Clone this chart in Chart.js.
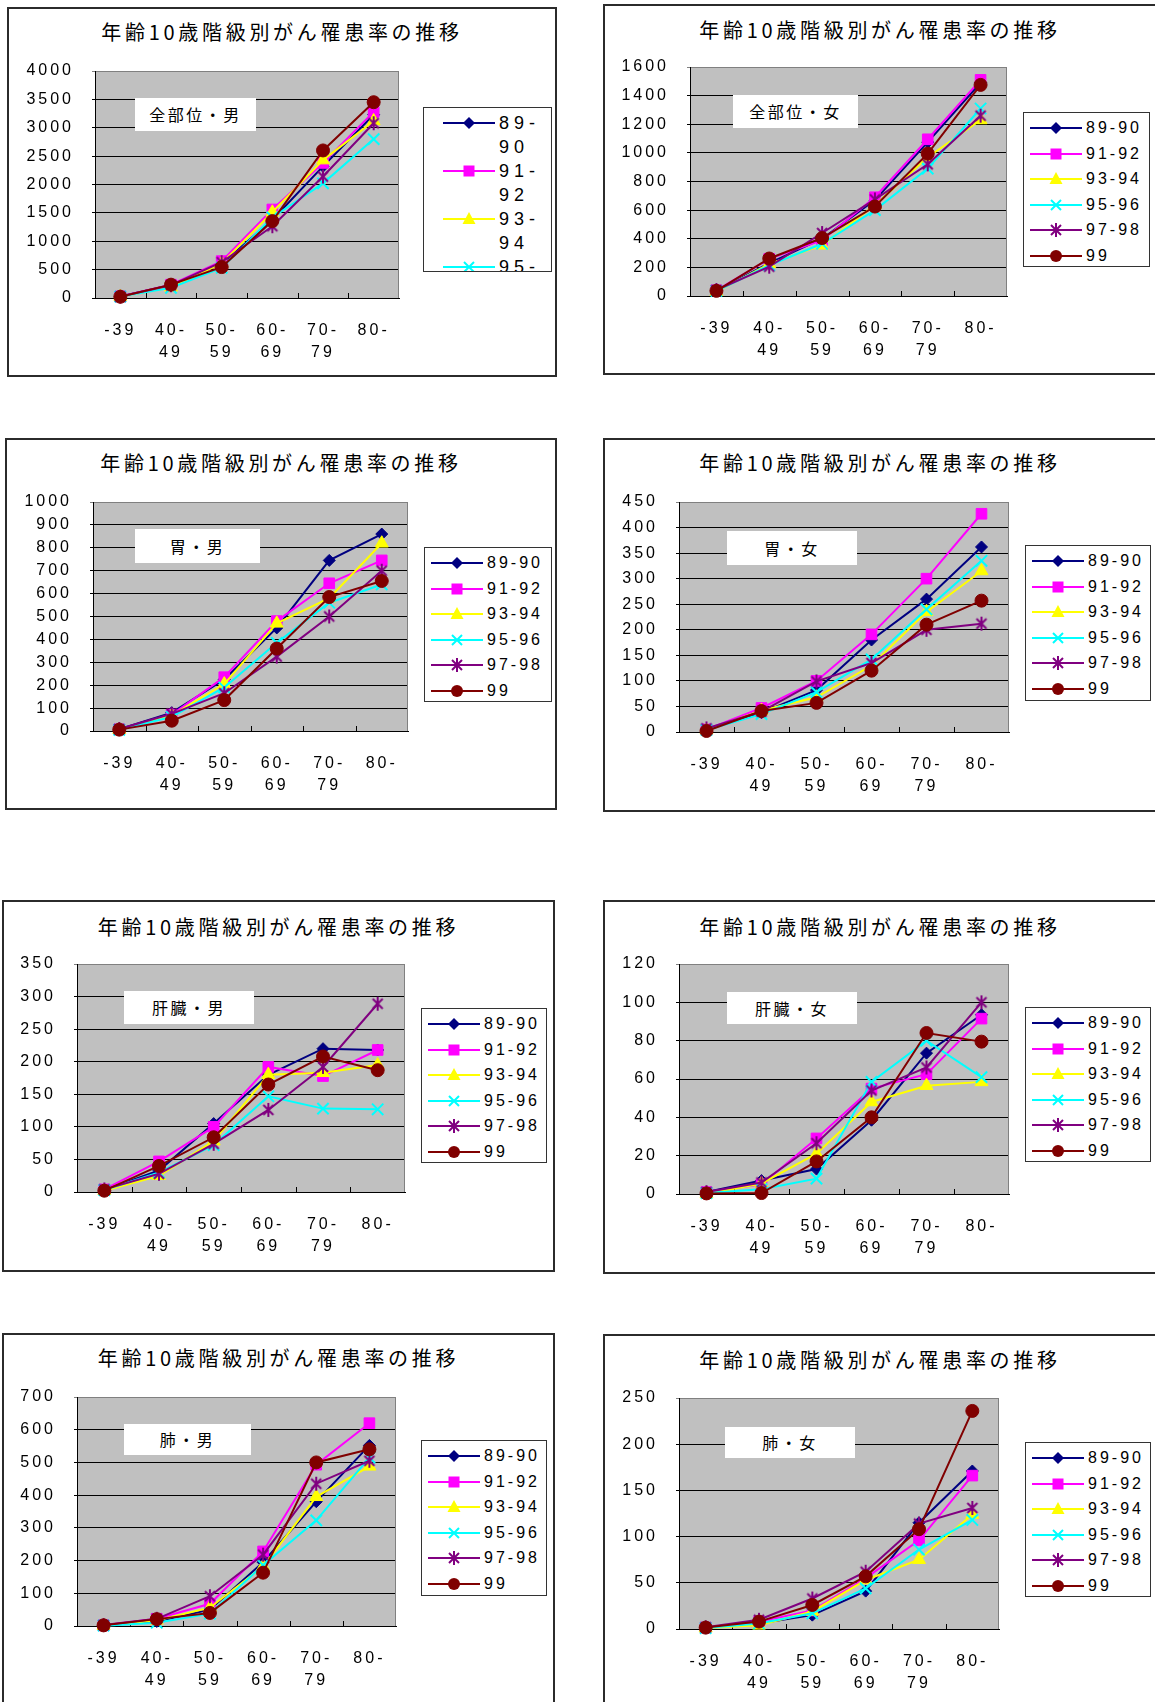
<!DOCTYPE html>
<html lang="ja">
<head>
<meta charset="utf-8">
<title>年齢10歳階級別がん罹患率の推移</title>
<script src="https://cdn.jsdelivr.net/npm/chart.js@4.4.1/dist/chart.umd.min.js"></script>
<style>
  html, body { margin: 0; padding: 0; background: #fff; }
  body { position: relative; width: 1155px; height: 1702px; overflow: hidden; }
  .panel { position: absolute; border: 2px solid #2b2b2b; box-sizing: border-box; background: #fff; }
  .title { position: absolute; text-align: center; font: 20px "Noto Sans CJK JP", sans-serif; line-height: 24px; letter-spacing: 3.7px; color: #000; white-space: nowrap; }
  .plot { position: absolute; }
  .plot canvas { display: block; }
  .tag { position: absolute; background: #fff; font: 16px "Noto Sans CJK JP", sans-serif; letter-spacing: 2.5px; text-align: center; color: #000; white-space: nowrap; }
  .legend { position: absolute; background: #fff; border: 1px solid #333; box-sizing: border-box; overflow: hidden; }
  .legend .row { position: absolute; left: 0; right: 0; }
  .legend svg { position: absolute; top: 0; }
  .legend span { position: absolute; top: 0; color: #000; white-space: nowrap; font-family: "Liberation Sans", Arial, sans-serif; }
</style>
</head>
<body>
<script>
// age groups (x axis) and survey periods (series)
const ageTicks = [["-39"], ["40-", "49"], ["50-", "59"], ["60-", "69"], ["70-", "79"], ["80-"]];
const periods = ["89-90", "91-92", "93-94", "95-96", "97-98", "99"];

// one row per period, one value per age group  (罹患率, 人口10万対)
const allSitesMale = [
  [25, 230, 600, 1380, 2320, 3230],
  [28, 235, 650, 1560, 2380, 3280],
  [26, 190, 610, 1510, 2430, 3120],
  [24, 180, 530, 1420, 2020, 2800],
  [25, 225, 630, 1265, 2140, 3080],
  [22, 235, 545, 1355, 2600, 3450]
];
const allSitesFemale = [
  [38, 230, 400, 670, 1075, 1490],
  [40, 260, 390, 690, 1095, 1510],
  [30, 225, 355, 635, 970, 1230],
  [35, 215, 365, 600, 890, 1310],
  [42, 205, 440, 675, 920, 1260],
  [36, 262, 405, 625, 995, 1475]
];
const stomachMale = [
  [8, 80, 225, 450, 745, 860],
  [7, 72, 235, 480, 645, 745],
  [6, 68, 205, 470, 580, 820],
  [5, 62, 190, 385, 560, 640],
  [9, 75, 165, 325, 500, 700],
  [6, 45, 135, 360, 585, 655]
];
const stomachFemale = [
  [5, 38, 82, 180, 260, 362],
  [5, 47, 100, 191, 300, 427],
  [4, 42, 68, 130, 235, 315],
  [4, 35, 78, 142, 240, 335],
  [7, 40, 99, 135, 200, 212],
  [2, 41, 57, 120, 210, 257]
];
const liverMale = [
  [3, 33, 105, 180, 220, 218],
  [4, 47, 100, 192, 178, 218],
  [2, 25, 78, 180, 183, 195],
  [3, 30, 72, 147, 128, 127],
  [4, 28, 74, 126, 192, 289],
  [2, 40, 84, 165, 208, 187]
];
const liverFemale = [
  [1, 7, 13, 38.5, 73.5, 93.5],
  [1, 5, 29, 55, 62.5, 91.5],
  [0, 5.5, 21, 48, 56.5, 58.5],
  [0.5, 2.5, 8, 58.5, 80, 61],
  [1, 6, 26.5, 54, 66, 100],
  [0.3, 0.5, 17, 40, 84, 79.5]
];
const lungMale = [
  [2, 14, 50, 195, 380, 552],
  [2, 22, 68, 228, 493, 620],
  [1, 17, 56, 182, 395, 488],
  [1, 10, 38, 186, 323, 515],
  [3, 22, 91, 218, 435, 505],
  [2, 21, 40, 163, 500, 540]
];
const lungFemale = [
  [1.5, 6, 15, 41, 115, 171],
  [1.5, 8, 20, 55, 96, 166],
  [1, 4, 19, 53, 75, 124],
  [1, 6, 17, 44, 86, 118],
  [2, 10, 33, 62, 114, 131],
  [1.5, 8, 26, 57, 108, 236]
];

// y axis: [min, max, step]
const allSitesMaleAxis = [0, 4000, 500];
const allSitesFemaleAxis = [0, 1600, 200];
const stomachMaleAxis = [0, 1000, 100];
const stomachFemaleAxis = [0, 450, 50];
const liverMaleAxis = [0, 350, 50];
const liverFemaleAxis = [0, 120, 20];
const lungMaleAxis = [0, 700, 100];
const lungFemaleAxis = [0, 250, 50];

const chartTitle = "年齢10歳階級別がん罹患率の推移";

// series styles
const seriesColors = ["#000080", "#FF00FF", "#FFFF00", "#00FFFF", "#800080", "#800000"];
const seriesMarkers = ["rectRot", "rect", "triangle", "crossRot", "asterisk", "circle"];
const markerRadius = [6, 7.5, 7.5, 8, 8, 6.5];
const markerBorder = [1, 1, 1, 2, 2, 1];

// page layout, [left, top, right, bottom] in px
const panels = [
  { tag: "全部位・男", values: allSitesMale, axis: allSitesMaleAxis, box: [7, 7, 557, 377], plot: [95, 71, 399, 298], legend: [423, 107, 552, 272], label: [135, 98, 256, 131], titleY: 32, compact: true },
  { tag: "全部位・女", values: allSitesFemale, axis: allSitesFemaleAxis, box: [603, 4, 1162, 375], plot: [690, 67, 1007, 296], legend: [1023, 112, 1150, 267], label: [733, 95, 858, 128], titleY: 30 },
  { tag: "胃・男", values: stomachMale, axis: stomachMaleAxis, box: [5, 438, 557, 810], plot: [93, 502, 408, 731], legend: [424, 547, 552, 702], label: [135, 529, 260, 563], titleY: 463 },
  { tag: "胃・女", values: stomachFemale, axis: stomachFemaleAxis, box: [603, 438, 1162, 812], plot: [679, 502, 1009, 732], legend: [1025, 545, 1151, 701], label: [727, 531, 857, 565], titleY: 463 },
  { tag: "肝臓・男", values: liverMale, axis: liverMaleAxis, box: [2, 900, 555, 1272], plot: [77, 964, 405, 1192], legend: [421, 1008, 547, 1163], label: [124, 991, 254, 1024], titleY: 927 },
  { tag: "肝臓・女", values: liverFemale, axis: liverFemaleAxis, box: [603, 900, 1162, 1274], plot: [679, 964, 1009, 1194], legend: [1025, 1007, 1151, 1162], label: [727, 992, 857, 1024], titleY: 927 },
  { tag: "肺・男", values: lungMale, axis: lungMaleAxis, box: [2, 1333, 555, 1720], plot: [77, 1397, 396, 1626], legend: [421, 1440, 547, 1596], label: [124, 1424, 251, 1455], titleY: 1358 },
  { tag: "肺・女", values: lungFemale, axis: lungFemaleAxis, box: [603, 1334, 1162, 1720], plot: [679, 1398, 999, 1629], legend: [1025, 1442, 1151, 1597], label: [725, 1427, 855, 1458], titleY: 1360 }
];

const AXIS_W = 90, AXIS_H = 60, PAD = 12;
const tickFont = { family: "'Liberation Sans', Arial, sans-serif", size: 16 };

// six-armed star marker (not in Chart.js)
function asteriskMarker(color) {
  const c = document.createElement("canvas");
  c.width = 16; c.height = 16;
  const g = c.getContext("2d");
  g.strokeStyle = color; g.lineWidth = 2;
  g.beginPath();
  g.moveTo(3, 3); g.lineTo(13, 13);
  g.moveTo(13, 3); g.lineTo(3, 13);
  g.moveTo(8, 1); g.lineTo(8, 15);
  g.stroke();
  return c;
}
const markerStyles = seriesMarkers.map((m, i) => m === "asterisk" ? asteriskMarker(seriesColors[i]) : m);

function markerSvg(i, cx, cy) {
  const c = seriesColors[i];
  switch (seriesMarkers[i]) {
    case "rectRot": return `<polygon points="${cx},${cy - 6} ${cx + 6},${cy} ${cx},${cy + 6} ${cx - 6},${cy}" fill="${c}"/>`;
    case "rect": return `<rect x="${cx - 5.5}" y="${cy - 5.5}" width="11" height="11" fill="${c}"/>`;
    case "triangle": return `<polygon points="${cx},${cy - 7} ${cx + 6.5},${cy + 5} ${cx - 6.5},${cy + 5}" fill="${c}"/>`;
    case "crossRot": return `<path d="M${cx - 5} ${cy - 5}L${cx + 5} ${cy + 5}M${cx + 5} ${cy - 5}L${cx - 5} ${cy + 5}" stroke="${c}" stroke-width="2"/>`;
    case "asterisk": return `<path d="M${cx - 5} ${cy - 5}L${cx + 5} ${cy + 5}M${cx + 5} ${cy - 5}L${cx - 5} ${cy + 5}M${cx} ${cy - 7}L${cx} ${cy + 7}" stroke="${c}" stroke-width="2"/>`;
    default: return `<circle cx="${cx}" cy="${cy}" r="6" fill="${c}"/>`;
  }
}

// gray plot area, right frame line and inner x ticks
const plotFrame = {
  id: "plotFrame",
  beforeDraw(chart) {
    const { ctx, chartArea: a } = chart;
    ctx.letterSpacing = "3px";
    ctx.save();
    ctx.fillStyle = "#c0c0c0";
    ctx.fillRect(a.left, a.top, a.right - a.left, a.bottom - a.top);
    ctx.restore();
  },
  beforeDatasetsDraw(chart) {
    const { ctx, chartArea: a } = chart;
    ctx.save();
    ctx.lineWidth = 1;
    ctx.strokeStyle = "#808080";
    ctx.beginPath();
    ctx.moveTo(a.right - 0.5, a.top);
    ctx.lineTo(a.right - 0.5, a.bottom);
    ctx.stroke();
    ctx.strokeStyle = "#000";
    const step = (a.right - a.left) / ageTicks.length;
    ctx.beginPath();
    for (let i = 1; i < ageTicks.length; i++) {
      const px = Math.round(a.left + i * step) + 0.5;
      ctx.moveTo(px, a.bottom);
      ctx.lineTo(px, a.bottom - 5);
    }
    ctx.stroke();
    ctx.restore();
  }
};

function addDiv(cls, l, t, w, h) {
  const d = document.createElement("div");
  d.className = cls;
  Object.assign(d.style, { left: l + "px", top: t + "px", width: w + "px", height: h + "px" });
  document.body.appendChild(d);
  return d;
}

function noPadding(s) {
  s.paddingTop = 0; s.paddingBottom = 0; s.paddingLeft = 0; s.paddingRight = 0;
}

panels.forEach((p) => {
  const [bl, bt, br, bb] = p.box;
  addDiv("panel", bl, bt, br - bl, bb - bt);
  const title = addDiv("title", bl, p.titleY - 12, Math.min(br, 1157) - bl, 24);
  title.textContent = chartTitle;

  // chart
  const [pl, pt, pr, pb] = p.plot;
  const w = pr - pl + AXIS_W + PAD, h = pb - pt + PAD + AXIS_H;
  const wrap = addDiv("plot", pl - AXIS_W, pt - PAD, w, h);
  const canvas = document.createElement("canvas");
  canvas.width = w; canvas.height = h;
  wrap.appendChild(canvas);
  const [yMin, yMax, yStep] = p.axis;

  new Chart(canvas, {
    type: "line",
    data: {
      labels: ageTicks,
      datasets: periods.map((name, i) => ({
        label: name,
        data: p.values[i],
        borderColor: seriesColors[i],
        backgroundColor: seriesColors[i],
        borderWidth: 2,
        tension: 0,
        pointStyle: markerStyles[i],
        pointRadius: markerRadius[i],
        pointBorderWidth: markerBorder[i],
        pointBorderColor: seriesColors[i],
        pointBackgroundColor: seriesColors[i],
        clip: false,
        order: periods.length - 1 - i
      }))
    },
    options: {
      responsive: false,
      animation: false,
      devicePixelRatio: 1,
      layout: { padding: { left: 0, top: PAD, right: PAD, bottom: 0 } },
      plugins: { legend: { display: false }, tooltip: { enabled: false } },
      scales: {
        x: {
          offset: true,
          grid: { display: false },
          border: { color: "#000", width: 1 },
          ticks: { color: "#000", font: { ...tickFont, lineHeight: 1.375 }, padding: 14, maxRotation: 0, autoSkip: false },
          afterFit: (s) => { s.height = AXIS_H; noPadding(s); }
        },
        y: {
          min: yMin,
          max: yMax,
          grid: {
            color: (c) => (c.tick && c.tick.value === yMax ? "#808080" : "#000"),
            lineWidth: 1,
            tickLength: 3
          },
          border: { color: "#000", width: 1 },
          ticks: { stepSize: yStep, autoSkip: false, color: "#000", font: tickFont, padding: 18, callback: (v) => String(v) },
          afterFit: (s) => { s.width = AXIS_W; noPadding(s); }
        }
      }
    },
    plugins: [plotFrame]
  });

  // label box inside the plot
  const [ll, lt, lr, lb] = p.label;
  const tag = addDiv("tag", ll, lt, lr - ll, lb - lt);
  tag.style.lineHeight = (lb - lt) + "px";
  tag.textContent = p.tag;

  // legend
  const [gl, gt, gr, gb] = p.legend;
  const legend = addDiv("legend", gl, gt, gr - gl, gb - gt);
  periods.forEach((name, i) => {
    const row = document.createElement("div");
    row.className = "row";
    let html;
    if (p.compact) {
      const parts = name.split("-");
      const text = parts.length > 1 ? parts[0] + "-<br>" + parts[1] : name;
      row.style.top = (3 + i * 48) + "px";
      row.style.height = "48px";
      html = `<svg width="52" height="24" style="left:19px">` +
        `<line x1="0" y1="12" x2="52" y2="12" stroke="${seriesColors[i]}" stroke-width="2"/>${markerSvg(i, 26, 12)}</svg>` +
        `<span style="left:75px;font-size:18px;line-height:24px;letter-spacing:5px">${text}</span>`;
    } else {
      row.style.top = (4 + i * 25.6) + "px";
      row.style.height = "22px";
      html = `<svg width="52" height="22" style="left:6px">` +
        `<line x1="0" y1="11" x2="52" y2="11" stroke="${seriesColors[i]}" stroke-width="2"/>${markerSvg(i, 26, 11)}</svg>` +
        `<span style="left:62px;font-size:16px;line-height:22px;letter-spacing:3px">${name}</span>`;
    }
    row.innerHTML = html;
    legend.appendChild(row);
  });
});
</script>
</body>
</html>
